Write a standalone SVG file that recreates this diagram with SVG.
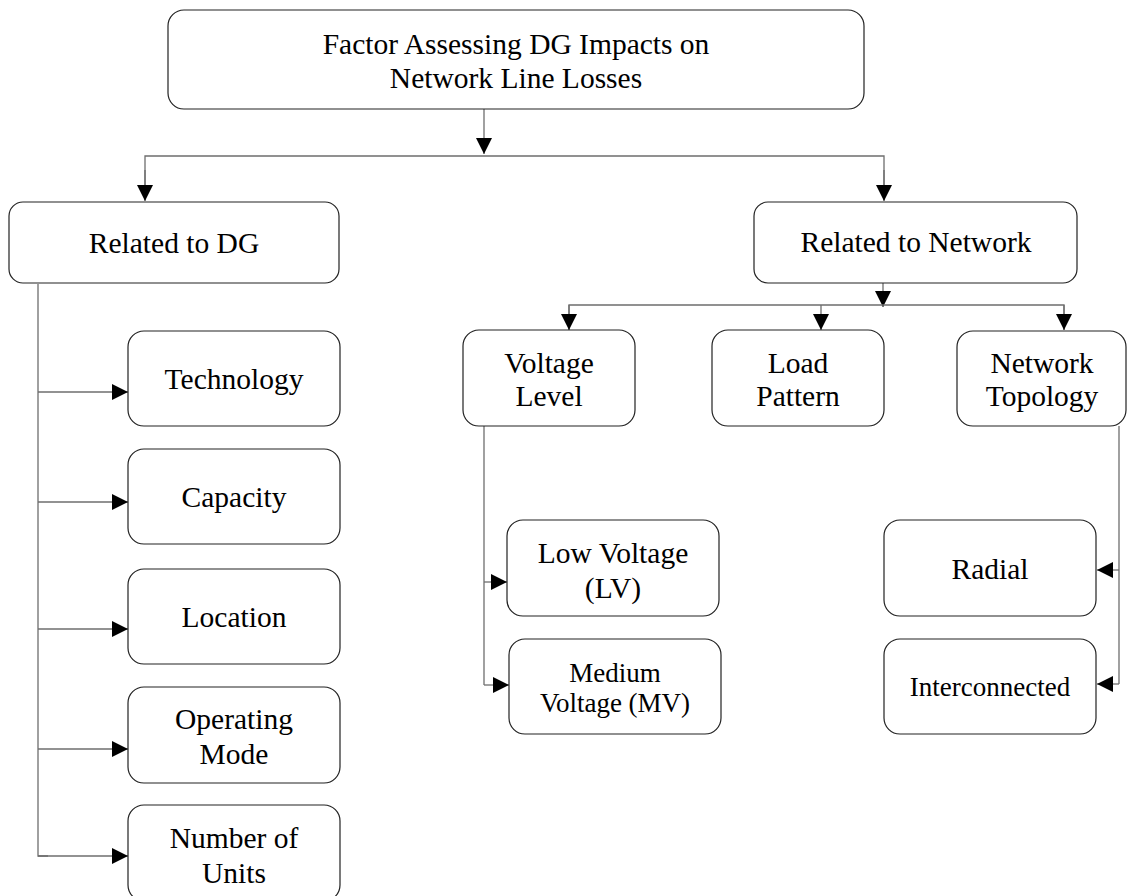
<svg xmlns="http://www.w3.org/2000/svg" width="1128" height="896" viewBox="0 0 1128 896">
  <defs>
    <style>
      .box { fill: #ffffff; stroke: #222222; stroke-width: 1.2; }
      .lbl { font-size: 29.5px; fill: #000000; text-anchor: middle; }
      .sm { font-size: 27px; }
      .wire { fill: none; stroke: #6e6e6e; stroke-width: 1.3; }
    </style>
    <marker id="arrow" viewBox="0 0 16 16" refX="16" refY="8" markerWidth="16" markerHeight="16" markerUnits="userSpaceOnUse" orient="auto">
      <path d="M0,0 L16,8 L0,16 Z" fill="#000000"/>
    </marker>
  </defs>
  <rect width="1128" height="896" fill="#ffffff"/>

  <!-- connectors -->
  <g id="connectors">
    <!-- root to branch bus -->
    <line class="wire" x1="484" y1="109" x2="484" y2="154" marker-end="url(#arrow)"/>
    <polyline class="wire" points="145,200 145,156 884,156 884,200" />
    <line class="wire" x1="145" y1="170" x2="145" y2="201" marker-end="url(#arrow)"/>
    <line class="wire" x1="884" y1="170" x2="884" y2="201" marker-end="url(#arrow)"/>

    <!-- DG factors -->
    <polyline class="wire" points="38,284 38,856 48,856"/>
    <line class="wire" x1="38" y1="392" x2="128" y2="392" marker-end="url(#arrow)"/>
    <line class="wire" x1="38" y1="502" x2="128" y2="502" marker-end="url(#arrow)"/>
    <line class="wire" x1="38" y1="629" x2="128" y2="629" marker-end="url(#arrow)"/>
    <line class="wire" x1="38" y1="749" x2="128" y2="749" marker-end="url(#arrow)"/>
    <line class="wire" x1="38" y1="856" x2="128" y2="856" marker-end="url(#arrow)"/>

    <!-- network factors -->
    <line class="wire" x1="883" y1="283" x2="883" y2="307" marker-end="url(#arrow)"/>
    <polyline class="wire" points="569,330 569,305 1064,305 1064,330"/>
    <line class="wire" x1="569" y1="305" x2="569" y2="330" marker-end="url(#arrow)"/>
    <line class="wire" x1="821" y1="305" x2="821" y2="330" marker-end="url(#arrow)"/>
    <line class="wire" x1="1064" y1="305" x2="1064" y2="330" marker-end="url(#arrow)"/>

    <!-- voltage level sub-items -->
    <polyline class="wire" points="484,426 484,685"/>
    <line class="wire" x1="484" y1="582" x2="507" y2="582" marker-end="url(#arrow)"/>
    <line class="wire" x1="484" y1="685" x2="509" y2="685" marker-end="url(#arrow)"/>

    <!-- topology sub-items -->
    <polyline class="wire" points="1119,426 1119,684"/>
    <line class="wire" x1="1119" y1="570" x2="1097" y2="570" marker-end="url(#arrow)"/>
    <line class="wire" x1="1119" y1="684" x2="1097" y2="684" marker-end="url(#arrow)"/>
  </g>

  <g font-family="'Liberation Serif', 'Times New Roman', Times, serif">
  <!-- root -->
  <g id="root">
    <rect class="box" x="168" y="10" width="696" height="99" rx="16"/>
    <text class="lbl" x="516" y="54">Factor Assessing DG Impacts on</text>
    <text class="lbl" x="516" y="88">Network Line Losses</text>
  </g>

  <g id="related-dg">
    <rect class="box" x="9" y="202" width="330" height="81" rx="14"/>
    <text class="lbl" x="174" y="253">Related to DG</text>
  </g>

  <g id="related-network">
    <rect class="box" x="754" y="202" width="323" height="81" rx="14"/>
    <text class="lbl" x="916" y="252">Related to Network</text>
  </g>

  <g id="technology">
    <rect class="box" x="128" y="331" width="212" height="95" rx="16"/>
    <text class="lbl" x="234" y="389">Technology</text>
  </g>

  <g id="capacity">
    <rect class="box" x="128" y="449" width="212" height="95" rx="16"/>
    <text class="lbl" x="234" y="507">Capacity</text>
  </g>

  <g id="location">
    <rect class="box" x="128" y="569" width="212" height="95" rx="16"/>
    <text class="lbl" x="234" y="627">Location</text>
  </g>

  <g id="operating-mode">
    <rect class="box" x="128" y="687" width="212" height="96" rx="16"/>
    <text class="lbl" x="234" y="729">Operating</text>
    <text class="lbl" x="234" y="764">Mode</text>
  </g>

  <g id="number-of-units">
    <rect class="box" x="128" y="805" width="212" height="96" rx="16"/>
    <text class="lbl" x="234" y="848">Number of</text>
    <text class="lbl" x="234" y="883">Units</text>
  </g>

  <g id="voltage-level">
    <rect class="box" x="463" y="330" width="172" height="96" rx="16"/>
    <text class="lbl" x="549" y="373">Voltage</text>
    <text class="lbl" x="549" y="406">Level</text>
  </g>

  <g id="load-pattern">
    <rect class="box" x="712" y="330" width="172" height="96" rx="16"/>
    <text class="lbl" x="798" y="373">Load</text>
    <text class="lbl" x="798" y="406">Pattern</text>
  </g>

  <g id="network-topology">
    <rect class="box" x="957" y="331" width="169" height="95" rx="16"/>
    <text class="lbl" x="1042" y="373">Network</text>
    <text class="lbl" x="1042" y="406">Topology</text>
  </g>

  <g id="low-voltage">
    <rect class="box" x="507" y="520" width="212" height="96" rx="16"/>
    <text class="lbl" x="613" y="563">Low Voltage</text>
    <text class="lbl" x="613" y="598">(LV)</text>
  </g>

  <g id="medium-voltage">
    <rect class="box" x="509" y="639" width="212" height="95" rx="16"/>
    <text class="lbl sm" x="615" y="682">Medium</text>
    <text class="lbl sm" x="615" y="712">Voltage (MV)</text>
  </g>

  <g id="radial">
    <rect class="box" x="884" y="520" width="212" height="96" rx="16"/>
    <text class="lbl" x="990" y="579">Radial</text>
  </g>

  <g id="interconnected">
    <rect class="box" x="884" y="639" width="212" height="95" rx="16"/>
    <text class="lbl sm" x="990" y="696">Interconnected</text>
  </g>
  </g>
</svg>
